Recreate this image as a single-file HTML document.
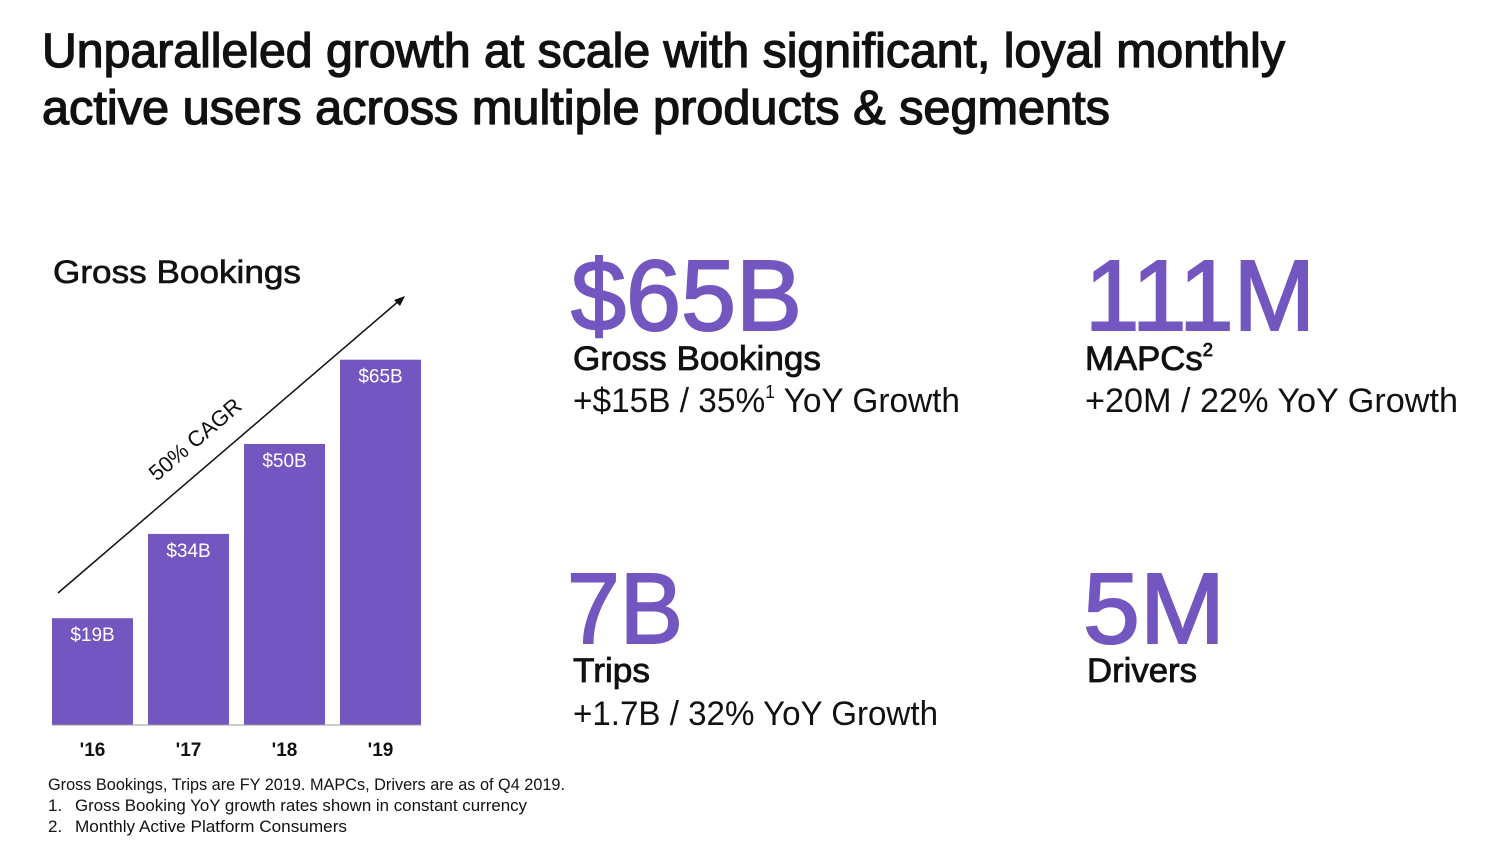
<!DOCTYPE html>
<html><head><meta charset="utf-8"><style>
body{margin:0;background:#fff}
svg{display:block;font-family:"Liberation Sans",sans-serif}
</style></head><body>
<svg width="1495" height="842" viewBox="0 0 1495 842">
<g fill="#111" stroke="#111" stroke-width="1.3" font-size="48">
<text x="42" y="67" textLength="1243" lengthAdjust="spacingAndGlyphs">Unparalleled growth at scale with significant, loyal monthly</text>
<text x="42" y="124" textLength="1068" lengthAdjust="spacingAndGlyphs">active users across multiple products &amp; segments</text>
</g>
<text x="53" y="283" font-size="32" fill="#111" stroke="#111" stroke-width="0.6" textLength="248" lengthAdjust="spacingAndGlyphs">Gross Bookings</text>
<g id="chart"></g>
<line x1="58" y1="593" x2="400" y2="300" stroke="#111" stroke-width="1.5"/>
<polygon points="405,296 394,300 400,306" fill="#111"/>
<text x="0" y="0" font-size="22" fill="#111" transform="translate(200,445) rotate(-40.5)" text-anchor="middle">50% CAGR</text>
<g fill="#7356BF" stroke="#7356BF" stroke-width="2">
<text x="571" y="330" font-size="100" textLength="231" lengthAdjust="spacingAndGlyphs">$65B</text>
<text x="1085" y="330" font-size="100" textLength="230" lengthAdjust="spacingAndGlyphs">111M</text>
<text x="567" y="643" font-size="100" textLength="116" lengthAdjust="spacingAndGlyphs">7B</text>
<text x="1083" y="643" font-size="100" textLength="142" lengthAdjust="spacingAndGlyphs">5M</text>
</g>
<g fill="#111" font-size="34">
<text x="573" y="370" stroke="#111" stroke-width="0.8" textLength="248" lengthAdjust="spacingAndGlyphs">Gross Bookings</text>
<text x="573" y="412" textLength="387" lengthAdjust="spacingAndGlyphs">+$15B / 35%<tspan font-size="18" dy="-14">1</tspan><tspan dy="14"> YoY Growth</tspan></text>
<text x="1085" y="370" stroke="#111" stroke-width="0.8" textLength="128" lengthAdjust="spacingAndGlyphs">MAPCs<tspan font-size="18" dy="-14">2</tspan></text>
<text x="1085" y="412" textLength="373" lengthAdjust="spacingAndGlyphs">+20M / 22% YoY Growth</text>
<text x="573" y="682" stroke="#111" stroke-width="0.8" textLength="77" lengthAdjust="spacingAndGlyphs">Trips</text>
<text x="573" y="725" textLength="365" lengthAdjust="spacingAndGlyphs">+1.7B / 32% YoY Growth</text>
<text x="1087" y="682" stroke="#111" stroke-width="0.8" textLength="110" lengthAdjust="spacingAndGlyphs">Drivers</text>
</g>
<g fill="#111" font-size="17">
<text x="48" y="790" textLength="517" lengthAdjust="spacingAndGlyphs">Gross Bookings, Trips are FY 2019. MAPCs, Drivers are as of Q4 2019.</text>
<text x="48" y="811">1.</text>
<text x="75" y="811" textLength="452" lengthAdjust="spacingAndGlyphs">Gross Booking YoY growth rates shown in constant currency</text>
<text x="48" y="832">2.</text>
<text x="75" y="832" textLength="272" lengthAdjust="spacingAndGlyphs">Monthly Active Platform Consumers</text>
</g>
</svg>
<script>
const categories = ["'16","'17","'18","'19"];
const values = [19,34,50,65];
const valueLabels = ["$19B","$34B","$50B","$65B"];
const NS="http://www.w3.org/2000/svg";
const g=document.getElementById('chart');
const baseY=725, pxPerUnit=5.62, x0=52, step=96, barW=81;
function xPos(i){return x0+i*step;}
function yPos(v){return baseY-v*pxPerUnit;}
function mk(tag,attrs){const e=document.createElementNS(NS,tag);for(const k in attrs)e.setAttribute(k,attrs[k]);return e;}
values.forEach((v,i)=>{
  const r=mk('rect',{x:xPos(i),y:yPos(v),width:barW,height:baseY-yPos(v),fill:'#7356BF'});
  
  
  g.appendChild(r);
  const t=mk('text',{x:xPos(i)+barW/2,y:yPos(v)+23,'text-anchor':'middle',fill:'#fff','font-size':'19'});
  t.textContent=valueLabels[i];
  
  
  g.appendChild(t);
  const c=mk('text',{x:xPos(i)+barW/2,y:756,'text-anchor':'middle',fill:'#111','font-size':'19','font-weight':'bold'});
  c.textContent=categories[i];
  
  
  g.appendChild(c);
});
const base=mk('line',{x1:x0,y1:baseY,x2:xPos(3)+barW,y2:baseY,stroke:'#999','stroke-width':1});


g.appendChild(base);
</script>
</body></html>
